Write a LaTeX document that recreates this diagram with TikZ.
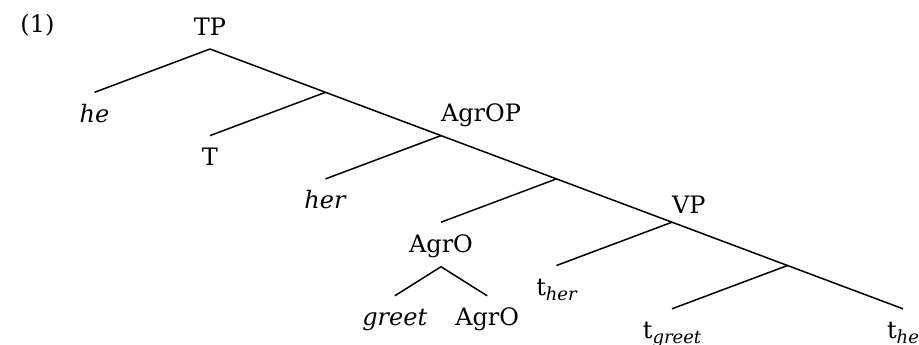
\documentclass[tikz,border=0pt]{standalone}
\usepackage{fontspec}
\setmainfont{DejaVu Serif}
\newcommand{\trc}[1]{t\raisebox{-2.5pt}{\fontsize{9}{10}\selectfont\itshape #1}}
\tikzset{
  cat/.style={inner sep=0pt,outer sep=0pt,text height=15pt,text depth=7.25pt},
  leaf/.style={cat,anchor=north},
  root/.style={inner sep=0pt,outer sep=0pt,text depth=7pt,anchor=south},
  bar/.style={inner sep=0pt,outer sep=0pt,anchor=south west,yshift=4.4pt}
}
\begin{document}
\begin{tikzpicture}[x=57.75pt,y=21.65pt,line width=.75pt,font=\fontsize{12}{14}\selectfont]
\useasboundingbox (-105pt,24.5pt) rectangle (354.5pt,-147.5pt);
%\draw[very thin,dashed,step=1] (-1,-6) grid (6,0);
\node[anchor=base west] (ex) at (-98.5pt,8.25pt) {(1)};

\coordinate (s0) at (0,0);
\coordinate (s1) at (1,-1);
\coordinate (s2) at (2,-2);
\coordinate (s3) at (3,-3);
\coordinate (s4) at (4,-4);
\coordinate (s5) at (5,-5);

\node[root] (tp) at (s0) {TP};
\node[bar] (agrop) at (s2) {AgrOP};
\node[bar] (vp) at (s4) {VP};

\node[leaf] (he) at (-1,-1) {\textit{he}};
\node[leaf] (t) at (0,-2) {T};
\node[leaf] (her) at (1,-3) {\textit{her}};
\node[leaf] (agro) at (2,-4) {AgrO};
\node[leaf] (greet) at (1.6,-5.7) {\textit{greet}};
\node[leaf] (agrohd) at (2.4,-5.7) {AgrO};
\node[leaf] (ther) at (3,-5) {\trc{her}};
\node[leaf] (tgreet) at (4,-6) {\trc{greet}};
\node[leaf] (the) at (6,-6) {\trc{he}};

\draw (tp.south) -- (s1) -- (s2) -- (s3) -- (s4) -- (s5) -- (the.north);
\draw (tp.south) -- (he.north);
\draw (s1) -- (t.north);
\draw (s2) -- (her.north);
\draw (s3) -- (agro.north);
\draw (agro.south) -- (greet.north);
\draw (agro.south) -- (agrohd.north);
\draw (s4) -- (ther.north);
\draw (s5) -- (tgreet.north);
\end{tikzpicture}
\end{document}
